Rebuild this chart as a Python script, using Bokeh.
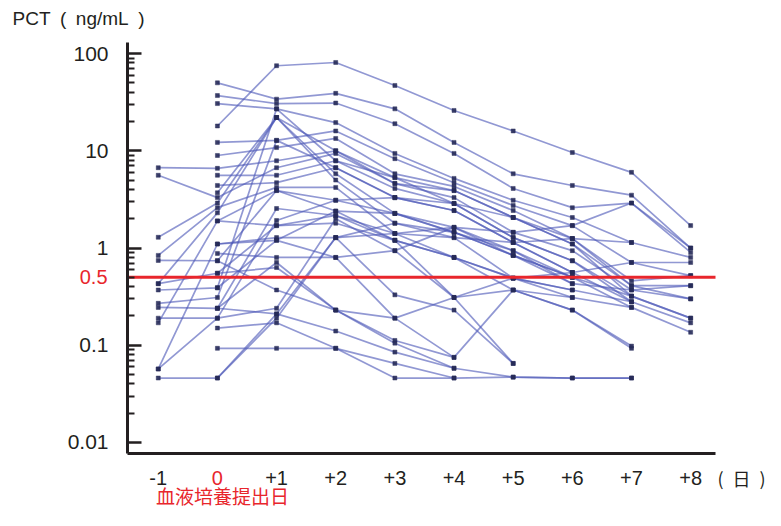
import math
from bokeh.plotting import figure
from bokeh.models import Range1d, FixedTicker, Label
from bokeh.embed import file_html
from bokeh.resources import INLINE

# ---------------- data ----------------
days = [-1, 0, 1, 2, 3, 4, 5, 6, 7, 8]
x_tick_labels = ["-1", "0", "+1", "+2", "+3", "+4", "+5", "+6", "+7", "+8"]
y_ticks = [0.01, 0.1, 1, 10, 100]
y_tick_labels = ["0.01", "0.1", "1", "10", "100"]
y_minor_ticks = [0.02, 0.03, 0.04, 0.05, 0.06, 0.07, 0.08, 0.09,
                 0.2, 0.3, 0.4, 0.5, 0.6, 0.7, 0.8, 0.9,
                 2, 3, 4, 5, 6, 7, 8, 9,
                 20, 30, 40, 50, 60, 70, 80, 90]
threshold = 0.5
threshold_label = "0.5"
y_title = "PCT\u2002(\u2002ng/mL\u2002)"
x_unit = "(\u2002日\u2002)"
day0_note = "血液培養提出日"

# PCT (ng/mL) per patient, days -1 .. +8 (None = not measured)
p01 = [None, 18, 75, 81, 47, 26, 16, 9.6, 6.0, 1.7]
p02 = [None, 50, 34, 39, 27, 12.2, 5.8, 4.4, 3.5, 1.0]
p03 = [None, 37, 30.6, 31, 19, 9.4, 4.1, 2.6, 2.9, 0.9]
p04 = [None, 30.6, 27, 19.5, 9.4, 5.2, 3.1, 2.06, 1.14, 0.8]
p05 = [None, 12.2, 12.8, 16, 8.3, 4.7, 2.74, 1.7, 0.71, 0.71]
p06 = [None, 8.95, 10.8, 13.4, 5.8, 4.3, 2.43, 1.25, 0.46, 0.52]
p07 = [6.7, 6.6, 7.9, 10, 5.3, 3.9, 2.06, 1.1, 0.41, 0.41]
p08 = [5.6, 3.3, 6.7, 9.4, 4.6, 3.3, 1.45, 0.94, 0.37, 0.3]
p09 = [None, 5.6, 5.6, 7.9, 4.1, 2.87, 1.28, 0.74, 0.32, 0.19]
p10 = [None, 4.4, 4.7, 6.7, 3.3, 2.43, 1.14, 0.56, 0.28, 0.17]
p11 = [None, 3.7, 22, 5.8, 2.27, 1.63, 0.94, 0.5, 0.245, 0.136]
p12 = [1.29, 2.9, 22, 5.0, 1.8, 1.45, 0.84, 0.43, None, None]
p13 = [0.84, 2.6, 4.2, 4.2, 1.41, 1.28, 0.49, 0.37, None, None]
p14 = [0.745, 0.74, 3.9, 2.4, 1.2, 0.8, 0.37, 0.23, 0.098, None]
p15 = [0.43, 2.3, 22, 10, 4.6, 3.9, 2.06, 1.1, 0.32, None]
p16 = [0.37, 0.39, 27, 7.9, 5.3, 2.87, 1.28, 0.74, 0.28, None]
p17 = [0.27, 0.31, 12.8, 6.7, 3.3, 2.43, 1.14, 0.56, None, None]
p18 = [0.245, 0.24, 2.55, 2.16, 1.41, 0.8, 0.49, 0.31, 0.245, None]
p19 = [0.19, 0.19, 0.24, 2.0, 0.94, 1.63, 0.84, 0.5, None, None]
p20 = [0.17, 1.9, 1.7, 1.8, 1.2, 0.31, 0.37, 0.23, 0.093, None]
p21 = [0.057, 1.1, 1.28, 1.28, 0.33, 0.23, 0.065, None, None, None]
p22 = [0.046, 0.046, 0.21, 0.14, 0.085, 0.058, 0.047, 0.046, 0.046, None]
p23 = [None, 0.88, 0.8, 0.8, 0.19, 0.075, 0.37, 0.31, None, None]
p24 = [None, 0.55, 0.63, 0.23, 0.112, 0.075, None, None, None, None]
p25 = [None, 0.15, 0.17, 0.093, 0.065, 0.046, 0.047, 0.046, 0.046, None]
p26 = [None, 0.093, 0.093, 0.093, 0.046, 0.046, None, None, None, None]
p27 = [0.057, 0.19, 1.92, 3.1, 2.27, 1.45, 0.94, 0.43, 0.37, 0.41]
p28 = [None, 0.046, 0.19, 1.28, 1.8, 1.28, 1.14, 1.25, 1.14, None]
p29 = [None, 0.24, 0.71, 0.23, 0.105, 0.058, None, None, None, None]
p30 = [None, 1.1, 1.2, 0.8, 0.94, 0.31, 0.49, 0.56, 0.71, 0.52]
p31 = [None, 0.74, 0.37, 0.23, 0.19, 0.31, 0.065, None, None, None]
p32 = [None, 0.24, 0.21, 1.28, 1.41, 1.63, 1.45, 1.7, 2.9, 1.0]
p33 = [None, 1.9, 3.9, 3.1, 3.3, 2.87, 2.06, 1.25, 0.41, 0.3]
p34 = [None, 0.39, 1.2, 2.4, 2.27, 1.45, 0.84, 0.5, 0.32, 0.19]
p35 = [0.43, 0.55, 1.7, 2.16, 1.2, 0.8, 0.49, 0.37, 0.28, None]

patients = [p01, p02, p03, p04, p05, p06, p07, p08, p09, p10, p11, p12, p13,
            p14, p15, p16, p17, p18, p19, p20, p21, p22, p23, p24, p25, p26,
            p27, p28, p29, p30, p31, p32, p33, p34, p35]

# ---------------- layout ----------------
W, H = 765, 510
FL, FR, FT, FB = 127, 715, 42, 453      # where the axes sit (canvas px)
X0, X1 = -1.52, 8.42                    # axis extents
YLO, YHI = 0.0077, 130

KX = (X1 - X0) / (FR - FL)
LLO, LHI = math.log10(YLO), math.log10(YHI)
KY = (LHI - LLO) / (FB - FT)

LINE_C = "#4d59b8"
DOT_C = "#262a58"
RED = "#e8262c"
INK = "#231f20"
LATIN = "Liberation Sans"
CJK = "Noto Sans CJK JP"


def dx(px):
    return X0 + (px - FL) * KX


def dy(py):
    return 10 ** (LLO + (FB - py) * KY)


p = figure(width=W, height=H,
           x_range=Range1d(dx(0), dx(W)), y_range=Range1d(dy(H), dy(0)),
           y_axis_type="log", output_backend="svg", toolbar_location=None,
           min_border_left=0, min_border_right=0,
           min_border_top=0, min_border_bottom=0, title=None)
p.outline_line_color = None
p.xgrid.visible = False
p.ygrid.visible = False
p.background_fill_color = "white"
p.border_fill_color = "white"

for s in patients:
    xs = [d for d, v in zip(days, s) if v is not None]
    ys = [v for v in s if v is not None]
    p.line(xs, ys, line_color=LINE_C, line_alpha=0.62, line_width=1.7)
for s in patients:
    xs = [d for d, v in zip(days, s) if v is not None]
    ys = [v for v in s if v is not None]
    p.scatter(xs, ys, marker="square", size=4, fill_color=DOT_C, line_color=DOT_C,
              line_width=0.5, alpha=0.9)

# threshold line across the axis extent
p.segment(x0=[X0], y0=[threshold], x1=[X1], y1=[threshold],
          line_color=RED, line_width=3)

# x axis
xa = p.xaxis[0]
xa.fixed_location = YLO
xa.bounds = (X0, X1)
xa.ticker = FixedTicker(ticks=days)
xa.major_label_overrides = {d: ("" if d == 0 else lab) for d, lab in zip(days, x_tick_labels)}
xa.axis_line_width = 3
xa.axis_line_color = INK
xa.major_tick_line_color = None
xa.minor_tick_line_color = None
xa.major_label_text_font = LATIN
xa.major_label_text_font_size = "20px"
xa.major_label_text_color = INK
xa.major_label_standoff = 11

# y axis
ya = p.yaxis[0]
ya.fixed_location = X0
ya.bounds = (YLO, YHI)
ya.ticker = FixedTicker(ticks=y_ticks, minor_ticks=y_minor_ticks)
ya.major_label_overrides = {t: lab for t, lab in zip(y_ticks, y_tick_labels)}
ya.axis_line_width = 3
ya.axis_line_color = INK
ya.major_tick_in = 14
ya.major_tick_out = 0
ya.minor_tick_in = 7
ya.minor_tick_out = 0
ya.major_tick_line_width = 2.5
ya.minor_tick_line_width = 2
ya.major_tick_line_color = INK
ya.minor_tick_line_color = INK
ya.major_label_text_font = LATIN
ya.major_label_text_font_size = "21px"
ya.major_label_text_color = INK
ya.major_label_standoff = 19

# texts
p.add_layout(Label(x=dx(12), y=dy(18), text=y_title, text_font=LATIN,
                   text_font_size="19px", text_color=INK,
                   text_align="left", text_baseline="middle"))
p.add_layout(Label(x=dx(107), y=threshold, text=threshold_label, text_font=LATIN,
                   text_font_size="20px", text_color=RED,
                   text_align="right", text_baseline="middle"))
p.add_layout(Label(x=0, y=dy(477), text=x_tick_labels[1], text_font=LATIN,
                   text_font_size="20px", text_color=RED,
                   text_align="center", text_baseline="middle"))
p.add_layout(Label(x=dx(741), y=dy(477), text=x_unit, text_font=CJK,
                   text_font_size="18px", text_color=INK,
                   text_align="center", text_baseline="middle"))
p.add_layout(Label(x=dx(222), y=dy(495), text=day0_note, text_font=CJK,
                   text_font_size="19px", text_color=RED,
                   text_align="center", text_baseline="middle"))

open("out.html", "w").write(file_html(p, INLINE))
